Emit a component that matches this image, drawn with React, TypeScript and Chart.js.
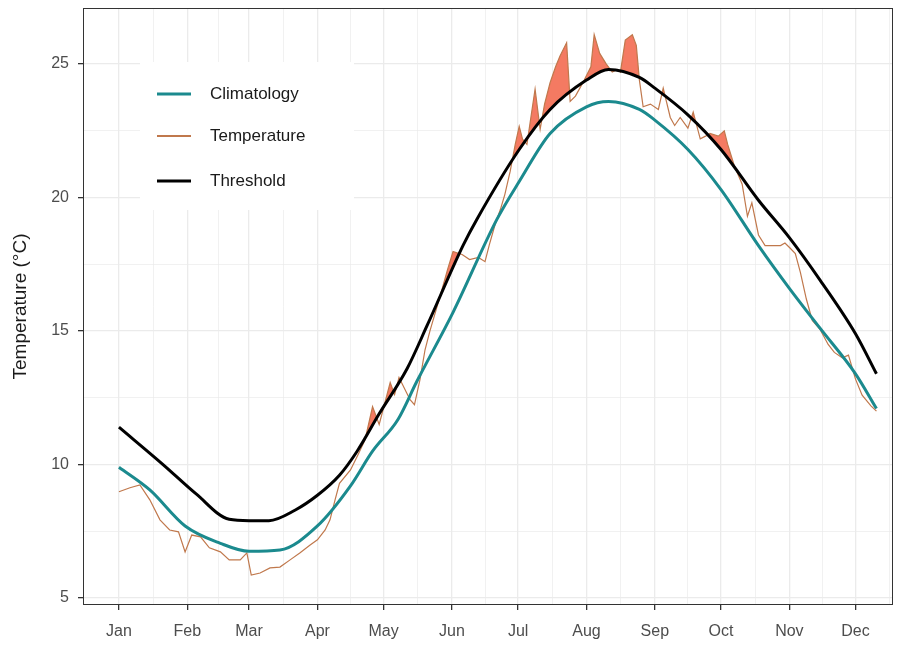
import React, { useEffect, useRef } from "react";
import { Chart, registerables } from "chart.js";
Chart.register(...registerables);

const monthLabels = ["Jan","Feb","Mar","Apr","May","Jun","Jul","Aug","Sep","Oct","Nov","Dec"];
const monthStarts = [0,31,59,90,120,151,181,212,243,273,304,334];
const yMajor = [5,10,15,20,25];

const climDays = [0,14,30,46,59,73,90,105,115,126.6,135,151.5,171.5,181.5,195.5,212,222,236,243,258,273,290,304,318,334,343.5];
const climValues = [9.9,9.05,7.7,7.05,6.75,6.8,7.7,9.2,10.5,11.7,13.1,15.7,19.2,20.6,22.4,23.4,23.6,23.3,22.9,21.8,20.3,18.2,16.6,15.1,13.4,12.1];

const threshDays = [0,20,35,50,59,68,80,90,100,108,118,130.7,139.7,156,162.4,181.5,195.5,212,222,236,243,258,273,290,304,318,334,343.5];
const threshValues = [11.4,10.0,8.9,7.95,7.9,7.9,8.3,8.85,9.6,10.5,11.9,13.6,15.2,18.2,19.2,21.8,23.3,24.4,24.8,24.5,24.1,23.1,21.8,19.9,18.5,16.9,14.9,13.4];

const tempDays = [0,5,9.5,14,18.6,23,27,30,33,37,41,46,50,55,58,60,64,68.5,73,77.6,82,86.7,90,93.5,95.7,98,100,105,108.4,111.6,115,118,123,125,127,132,134,136.5,138.8,141,145.6,149,151.5,155.6,159,163,166,168,170.6,173,175,177.4,179.7,181.5,183,185,187,188.7,191,193,195.5,198,200,203,204.6,207,209,211,214,215.5,218,221,223.7,226,227.4,229.6,232.8,234.6,236,237.7,241,244.6,246.8,250,252,254.5,258,260.4,263.6,266,268,271.8,274.5,276,279,282.6,285,287,290,293,296,300,302,304.4,306.7,309,311.7,314.4,318,321.6,324.4,328,330.8,334,337,341,343.5];
const tempValues = [8.98,9.13,9.24,8.68,7.93,7.55,7.48,6.73,7.36,7.29,6.88,6.73,6.43,6.43,6.69,5.86,5.94,6.13,6.16,6.43,6.69,6.99,7.18,7.55,7.93,8.68,9.3,9.8,10.37,10.93,12.17,11.5,13.07,12.62,13.26,12.43,12.24,13.18,14.3,15.0,16.3,17.3,17.98,17.87,17.68,17.76,17.6,18.25,19.0,19.56,20.12,20.98,21.99,22.67,22.19,21.99,23.12,24.06,22.56,23.5,24.3,24.9,25.3,25.8,23.6,23.8,24.1,24.4,24.9,26.1,25.4,25.0,24.7,24.8,24.7,25.9,26.1,25.7,24.4,23.4,23.5,23.3,24.1,23.0,22.7,23.0,22.6,23.2,22.2,22.3,22.4,22.3,22.5,22.0,21.2,20.5,19.3,19.8,18.6,18.2,18.2,18.2,18.3,18.1,17.9,17.2,16.2,15.4,15.05,14.5,14.2,14.0,14.1,13.2,12.6,12.2,12.0];

const pts = (xs: number[], ys: number[]) => xs.map((x, i) => ({ x, y: ys[i] }));

const FONT = "'Liberation Sans', Arial, sans-serif";

export default function App() {
  const ref = useRef<HTMLCanvasElement>(null);
  useEffect(() => {
    document.body.style.margin = "0";
    const legendPlugin = {
      id: "customLegend",
      afterDraw(chart: any) {
        const ctx = chart.ctx;
        const a = chart.chartArea;
        ctx.save();
        ctx.strokeStyle = "#333333";
        ctx.lineWidth = 1;
        ctx.strokeRect(a.left + 0.5, a.top + 0.5, a.right - a.left - 1, a.bottom - a.top - 1);
        ctx.fillStyle = "#ffffff";
        ctx.fillRect(140, 62, 214, 148);
        const items = [
          { label: "Climatology", color: "#1b8a8e", w: 3 },
          { label: "Temperature", color: "#c0784c", w: 2 },
          { label: "Threshold", color: "#000000", w: 3 },
        ];
        const ys = [94, 136, 181];
        ctx.font = `17px ${FONT}`;
        ctx.textBaseline = "middle";
        items.forEach((it, i) => {
          ctx.strokeStyle = it.color;
          ctx.lineWidth = it.w;
          ctx.beginPath();
          ctx.moveTo(157, ys[i]);
          ctx.lineTo(191, ys[i]);
          ctx.stroke();
          ctx.fillStyle = "#1a1a1a";
          ctx.fillText(it.label, 210, ys[i]);
        });
        ctx.restore();
      },
    };
    const xTicks: number[] = [];
    monthStarts.forEach((m, i) => {
      xTicks.push(m);
      const next = i < monthStarts.length - 1 ? monthStarts[i + 1] : 365;
      xTicks.push((m + next) / 2);
    });
    const isMajorX = (v: number) => monthStarts.includes(v);
    const isMajorY = (v: number) => yMajor.includes(v);
    const chart = new Chart(ref.current!, {
      type: "line",
      data: {
        datasets: [
          { label: "Climatology", data: pts(climDays, climValues), borderColor: "#1b8a8e", borderWidth: 3, pointRadius: 0, cubicInterpolationMode: "monotone", fill: false },
          { label: "Threshold", data: pts(threshDays, threshValues), borderColor: "#000000", borderWidth: 3, pointRadius: 0, cubicInterpolationMode: "monotone", fill: false },
          { label: "Temperature", data: pts(tempDays, tempValues), borderColor: "#c0784c", borderWidth: 1.2, pointRadius: 0, tension: 0,
            fill: { target: 1, above: "#f47a62", below: "rgba(0,0,0,0)" } },
        ],
      },
      options: {
        animation: false,
        responsive: false,
        layout: { padding: { top: 8, right: 11, left: 0, bottom: 0 } },
        plugins: { legend: { display: false }, tooltip: { enabled: false } },
        scales: {
          x: {
            type: "linear",
            min: -16.3,
            max: 351,
            afterBuildTicks: (s: any) => { s.ticks = xTicks.filter(v => v <= 351).map(v => ({ value: v })); },
            afterFit: (s: any) => { s.height = 41; s.paddingLeft = 0; s.paddingRight = 0; },
            ticks: {
              autoSkip: false, maxRotation: 0, color: "#4d4d4d", font: { size: 16, family: FONT }, padding: 12,
              callback: (v: any) => { const i = monthStarts.indexOf(v); return i >= 0 ? monthLabels[i] : ""; },
            },
            grid: {
              color: "#ebebeb",
              lineWidth: (c: any) => (isMajorX(c.tick?.value) ? 1.3 : 0.7),
              tickColor: (c: any) => (isMajorX(c.tick?.value) ? "#333333" : "rgba(0,0,0,0)"),
              tickLength: 5,
            },
            border: { display: false },
          },
          y: {
            min: 4.74,
            max: 27.1,
            afterBuildTicks: (s: any) => { s.ticks = [5,7.5,10,12.5,15,17.5,20,22.5,25].map(v => ({ value: v })); },
            afterFit: (s: any) => { s.width = 83; s.paddingTop = 0; s.paddingBottom = 0; },
            title: { display: true, text: "Temperature (°C)", color: "#1a1a1a", font: { size: 19, family: FONT }, padding: { top: 9, bottom: 0 } },
            ticks: {
              color: "#4d4d4d", font: { size: 16, family: FONT }, padding: 9,
              callback: (v: any) => (isMajorY(v) ? String(v) : ""),
            },
            grid: {
              color: "#ebebeb",
              lineWidth: (c: any) => (isMajorY(c.tick?.value) ? 1.3 : 0.7),
              tickColor: (c: any) => (isMajorY(c.tick?.value) ? "#333333" : "rgba(0,0,0,0)"),
              tickLength: 5,
            },
            border: { display: false },
          },
        },
      },
      plugins: [legendPlugin],
    } as any);
    return () => chart.destroy();
  }, []);
  return <canvas ref={ref} width={904} height={646} style={{ display: "block" }} />;
}
